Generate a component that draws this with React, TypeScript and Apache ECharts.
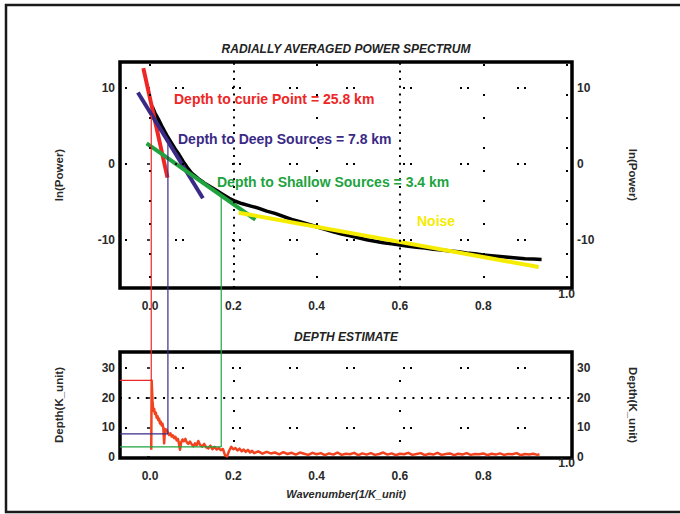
import React, { useEffect, useRef } from "react";
import * as echarts from "echarts";

// Axis extents and tick values
const X_MIN = -0.072;
const X_MAX = 1.013;
const X_TICKS = [0, 0.2, 0.4, 0.6, 0.8];
const X_END_TICK = [1.0];
const POWER_MIN = -16.3;
const POWER_MAX = 13.4;
const POWER_TICKS = [-10, 0, 10];
const DEPTH_MIN = -0.35;
const DEPTH_MAX = 35.4;
const DEPTH_TICKS = [0, 10, 20, 30];

// Dotted reference lines
const POWER_DENSE_X = [0.2, 0.6];
const POWER_SPARSE_X = [0, 0.4, 0.8, 1.0];
const POWER_SPARSE_Y = [10, 0, -10];
const DEPTH_SPARSE_X = [0.2, 0.6];
const DEPTH_DENSE_Y = [20];
const DEPTH_SPARSE_Y = [30, 10];

// Radially averaged power spectrum: [wavenumber, ln(power)]
const spectrum: [number, number][] = [
  [0.005, 7.6], [0.012, 6.7], [0.02, 5.9], [0.03, 4.8], [0.04, 3.8],
  [0.05, 2.9], [0.06, 2.0], [0.07, 1.2], [0.08, 0.3], [0.09, -0.5],
  [0.1, -1.2], [0.115, -1.9], [0.13, -2.5], [0.145, -3.0], [0.16, -3.5],
  [0.175, -4.0], [0.19, -4.5], [0.205, -4.9], [0.22, -5.2], [0.24, -5.5],
  [0.26, -5.8], [0.28, -6.2], [0.3, -6.5], [0.32, -6.9], [0.34, -7.3],
  [0.36, -7.6], [0.38, -7.9], [0.4, -8.25], [0.42, -8.6], [0.44, -8.9],
  [0.46, -9.2], [0.48, -9.45], [0.5, -9.7], [0.52, -9.95], [0.54, -10.15],
  [0.56, -10.35], [0.58, -10.5], [0.6, -10.65], [0.62, -10.8], [0.64, -10.95],
  [0.66, -11.05], [0.68, -11.2], [0.7, -11.3], [0.72, -11.45], [0.74, -11.55],
  [0.76, -11.7], [0.78, -11.8], [0.8, -11.95], [0.82, -12.05], [0.84, -12.15],
  [0.86, -12.25], [0.88, -12.35], [0.9, -12.45], [0.92, -12.5], [0.94, -12.55],
];

// Straight-line fits to the spectrum
const curieFit: [number, number][] = [[-0.016, 12.6], [0.042, -1.8]];
const deepFit: [number, number][] = [[-0.029, 9.4], [0.127, -4.5]];
const shallowFit: [number, number][] = [[-0.008, 2.7], [0.253, -7.3]];
const noiseFit: [number, number][] = [[0.213, -6.4], [0.933, -13.55]];

// Depth estimate: [wavenumber, depth]
const depthCurve: [number, number][] = [
  [0.003, 2.4], [0.004, 25.8], [0.006, 19], [0.008, 15.5], [0.01, 16.2],
  [0.012, 14.5], [0.014, 15.0], [0.016, 13.2], [0.018, 13.8], [0.02, 12.4],
  [0.022, 12.9], [0.024, 11.3], [0.026, 11.9], [0.028, 10.6], [0.03, 11.2],
  [0.032, 9.8], [0.034, 4.6], [0.036, 9.4], [0.038, 8.7], [0.04, 9.2],
  [0.043, 8.1], [0.046, 7.4], [0.049, 8.0], [0.052, 6.9], [0.055, 7.3],
  [0.058, 6.3], [0.061, 6.8], [0.064, 5.6], [0.067, 6.1], [0.07, 4.2],
  [0.072, 2.4], [0.075, 5.0], [0.078, 5.9], [0.081, 5.3], [0.085, 6.1],
  [0.088, 5.0], [0.092, 4.4], [0.096, 5.2], [0.1, 4.3], [0.104, 3.6],
  [0.108, 4.6], [0.112, 3.9], [0.116, 5.4], [0.12, 4.1], [0.125, 3.5],
  [0.13, 4.4], [0.135, 3.2], [0.14, 2.9], [0.145, 3.8], [0.15, 2.6],
  [0.155, 3.4], [0.16, 2.5], [0.165, 3.0], [0.17, 2.3], [0.175, 2.7],
  [0.18, 0.6], [0.185, 0.2], [0.19, 2.1], [0.195, 3.4], [0.2, 2.6],
  [0.205, 3.0], [0.21, 2.2], [0.215, 2.8], [0.22, 1.9], [0.225, 2.5],
  [0.23, 1.7], [0.235, 2.4], [0.24, 1.5], [0.245, 2.1], [0.25, 1.3],
  [0.26, 1.9], [0.27, 1.1], [0.28, 1.7], [0.29, 1.2], [0.3, 1.5],
  [0.31, 0.9], [0.32, 1.6], [0.33, 1.0], [0.34, 1.4], [0.35, 0.8],
  [0.36, 1.5], [0.37, 1.1], [0.38, 0.7], [0.39, 1.4], [0.4, 0.9],
  [0.41, 1.3], [0.42, 0.6], [0.43, 1.2], [0.44, 0.8], [0.45, 1.5],
  [0.46, 0.7], [0.47, 1.1], [0.48, 0.9], [0.49, 1.4], [0.5, 0.6],
  [0.51, 1.2], [0.52, 0.8], [0.53, 1.3], [0.54, 0.7], [0.55, 1.0],
  [0.56, 1.5], [0.57, 0.8], [0.58, 1.2], [0.59, 0.6], [0.6, 1.1],
  [0.61, 0.9], [0.62, 1.4], [0.63, 0.7], [0.64, 1.0], [0.65, 1.3],
  [0.66, 0.6], [0.67, 1.1], [0.68, 0.8], [0.69, 1.4], [0.7, 0.7],
  [0.71, 1.0], [0.72, 1.2], [0.73, 0.6], [0.74, 1.1], [0.75, 0.8],
  [0.76, 1.3], [0.77, 0.7], [0.78, 1.0], [0.79, 0.9], [0.8, 1.2],
  [0.81, 0.6], [0.82, 1.1], [0.83, 0.8], [0.84, 1.2], [0.85, 0.7],
  [0.86, 1.0], [0.87, 0.9], [0.88, 1.3], [0.89, 0.6], [0.9, 1.0],
  [0.91, 0.8], [0.92, 1.1], [0.93, 0.7], [0.935, 0.9],
];

// Picked break points: curie, deep sources, shallow sources
const pickWavenumber = [0.003, 0.043, 0.171];
const pickPower = [6.4, 2.8, -4.3];
const pickDepth = [25.8, 7.8, 3.4];

const FONT = '"Liberation Sans", Arial, Helvetica, sans-serif';
const RED = "#ee2626";
const INDIGO = "#3a2a86";
const GREEN = "#1ea33e";
const YELLOW = "#f6ec00";
const DEPTH_RED = "#f2421e";
const PICK_COLORS = [RED, INDIGO, GREEN];
const TICK_COLOR = "#2a2a2a";

const dots = (type: number[], dashOffset = 0) => ({
  color: "#000",
  width: 2,
  type,
  dashOffset,
  opacity: 1,
});

const DENSE = [2, 5.7];
const SPARSE_V = [2, 21, 2, 28];
const PAIRS = [2, 5, 2, 48];

const tickLabel = (margin: number, values: number[], fmt?: (v: number) => string) => ({
  customValues: values,
  margin,
  color: TICK_COLOR,
  fontSize: 12,
  fontWeight: "bold" as const,
  fontFamily: FONT,
  ...(fmt ? { formatter: fmt } : {}),
});

const axisName = {
  color: TICK_COLOR,
  fontSize: 11.5,
  fontWeight: "bold" as const,
  fontFamily: FONT,
};

const xAxisFor = (gridIndex: number, values: number[], margin: number, extra = {}) => ({
  type: "value" as const,
  gridIndex,
  position: "bottom" as const,
  min: X_MIN,
  max: X_MAX,
  axisLine: { show: false },
  axisTick: { show: false },
  splitLine: { show: false },
  axisLabel: tickLabel(margin, values, (v: number) => v.toFixed(1)),
  ...extra,
});

const yAxisFor = (
  gridIndex: number,
  position: "left" | "right",
  min: number,
  max: number,
  values: number[],
  name: string,
) => ({
  type: "value" as const,
  gridIndex,
  position,
  min,
  max,
  axisLine: { show: false },
  axisTick: {
    show: position === "left",
    customValues: values,
    length: 3,
    lineStyle: { color: "#000", width: 1.5 },
  },
  splitLine: { show: false },
  axisLabel: tickLabel(5, values),
  name,
  nameLocation: "middle" as const,
  nameRotate: position === "left" ? 90 : -90,
  nameGap: 55,
  nameTextStyle: axisName,
});

const lineSeries = (
  data: [number, number][],
  color: string,
  width: number,
  xAxisIndex: number,
  yAxisIndex: number,
  extra = {},
) => ({
  type: "line" as const,
  data,
  xAxisIndex,
  yAxisIndex,
  showSymbol: false,
  symbol: "none",
  silent: true,
  lineStyle: { color, width, cap: "butt" as const, join: "round" as const },
  ...extra,
});

const gridMarks = (items: any[]) => ({
  markLine: {
    silent: true,
    symbol: ["none", "none"],
    label: { show: false },
    emphasis: { disabled: true },
    animation: false,
    data: items,
  },
});

function buildOption() {
  const topMarks = [
    ...POWER_DENSE_X.map((v) => ({ xAxis: v, lineStyle: dots(DENSE) })),
    ...POWER_SPARSE_X.map((v) => ({ xAxis: v, lineStyle: dots(SPARSE_V, 43) })),
    ...POWER_SPARSE_Y.map((v) => ({ yAxis: v, lineStyle: dots(PAIRS, 2) })),
  ];
  const bottomMarks = [
    ...DEPTH_SPARSE_X.map((v) => ({ xAxis: v, lineStyle: dots([2, 28], 14) })),
    ...DEPTH_DENSE_Y.map((v) => ({ yAxis: v, lineStyle: dots([2, 6.6]) })),
    ...DEPTH_SPARSE_Y.map((v) => ({ yAxis: v, lineStyle: dots(PAIRS, 2) })),
  ];

  const depthLines = pickDepth.map((d, i) =>
    lineSeries(
      [
        [X_MIN, d],
        [pickWavenumber[i], d],
      ],
      PICK_COLORS[i],
      1.2,
      2,
      2,
    ),
  );

  return {
    animation: false,
    backgroundColor: "#ffffff",
    title: [
      {
        text: "RADIALLY AVERAGED POWER SPECTRUM",
        left: 346,
        top: 43,
        textAlign: "center",
        padding: 0,
        textStyle: { fontSize: 12, fontWeight: "bold", fontStyle: "italic", color: "#222", fontFamily: FONT },
      },
      {
        text: "DEPTH ESTIMATE",
        left: 346,
        top: 331,
        textAlign: "center",
        padding: 0,
        textStyle: { fontSize: 12, fontWeight: "bold", fontStyle: "italic", color: "#222", fontFamily: FONT },
      },
    ],
    grid: [
      { left: 120, top: 62, width: 452, height: 226, show: true, borderColor: "#000", borderWidth: 3.5, backgroundColor: "transparent" },
      { left: 120, top: 352, width: 452, height: 106, show: true, borderColor: "#000", borderWidth: 3.5, backgroundColor: "transparent" },
    ],
    xAxis: [
      xAxisFor(0, X_TICKS, 12),
      xAxisFor(0, X_END_TICK, 0),
      xAxisFor(1, X_TICKS, 12, {
        name: "Wavenumber(1/K_unit)",
        nameLocation: "middle",
        nameGap: 30,
        nameTextStyle: { ...axisName, fontSize: 11, fontStyle: "italic" },
      }),
      xAxisFor(1, X_END_TICK, -1),
    ],
    yAxis: [
      yAxisFor(0, "left", POWER_MIN, POWER_MAX, POWER_TICKS, "ln(Power)"),
      yAxisFor(0, "right", POWER_MIN, POWER_MAX, POWER_TICKS, "ln(Power)"),
      yAxisFor(1, "left", DEPTH_MIN, DEPTH_MAX, DEPTH_TICKS, "Depth(K_unit)"),
      yAxisFor(1, "right", DEPTH_MIN, DEPTH_MAX, DEPTH_TICKS, "Depth(K_unit)"),
    ],
    series: [
      lineSeries(spectrum, "#000000", 3.5, 0, 0, gridMarks(topMarks)),
      lineSeries(curieFit, RED, 4, 0, 0),
      lineSeries(deepFit, INDIGO, 4, 0, 0),
      lineSeries(shallowFit, GREEN, 4, 0, 0),
      lineSeries(noiseFit, YELLOW, 4, 0, 0),
      lineSeries(depthCurve, DEPTH_RED, 2.5, 2, 2, gridMarks(bottomMarks)),
      ...depthLines,
    ],
  };
}

const annotation = (text: string, x: number, y: number, fill: string) => ({
  type: "text",
  silent: true,
  z: 10,
  style: {
    text,
    x,
    y,
    fill,
    verticalAlign: "middle",
    font: `bold 14px ${FONT}`,
  },
});

export default function App() {
  const ref = useRef<HTMLDivElement>(null);

  useEffect(() => {
    const chart = echarts.init(ref.current!, null, { renderer: "svg" });
    chart.setOption(buildOption() as any);

    // Connectors from each picked point on the spectrum down to its depth
    const connectors = pickWavenumber.map((x, i) => {
      const [x1, y1] = chart.convertToPixel({ seriesIndex: 0 }, [x, pickPower[i]]) as number[];
      const [x2, y2] = chart.convertToPixel({ seriesIndex: 5 }, [x, pickDepth[i]]) as number[];
      return {
        type: "line",
        silent: true,
        z: 5,
        shape: { x1, y1, x2, y2 },
        style: { stroke: PICK_COLORS[i], lineWidth: 1.2 },
      };
    });

    chart.setOption({
      graphic: [
        {
          type: "rect",
          silent: true,
          z: 0,
          shape: { x: 6, y: 5, width: 700, height: 507 },
          style: { fill: "none", stroke: "#1a1a1a", lineWidth: 2.5 },
        },
        annotation(`Depth to curie Point = ${pickDepth[0]} km`, 174, 99, RED),
        annotation(`Depth to Deep Sources = ${pickDepth[1]} km`, 178, 139, INDIGO),
        annotation(`Depth to Shallow Sources = ${pickDepth[2]} km`, 217, 182, GREEN),
        annotation("Noise", 417, 221, YELLOW),
        ...connectors,
      ],
    } as any);

    return () => chart.dispose();
  }, []);

  return (
    <div
      ref={ref}
      style={{ position: "absolute", left: 0, top: 0, width: 680, height: 514 }}
    />
  );
}
